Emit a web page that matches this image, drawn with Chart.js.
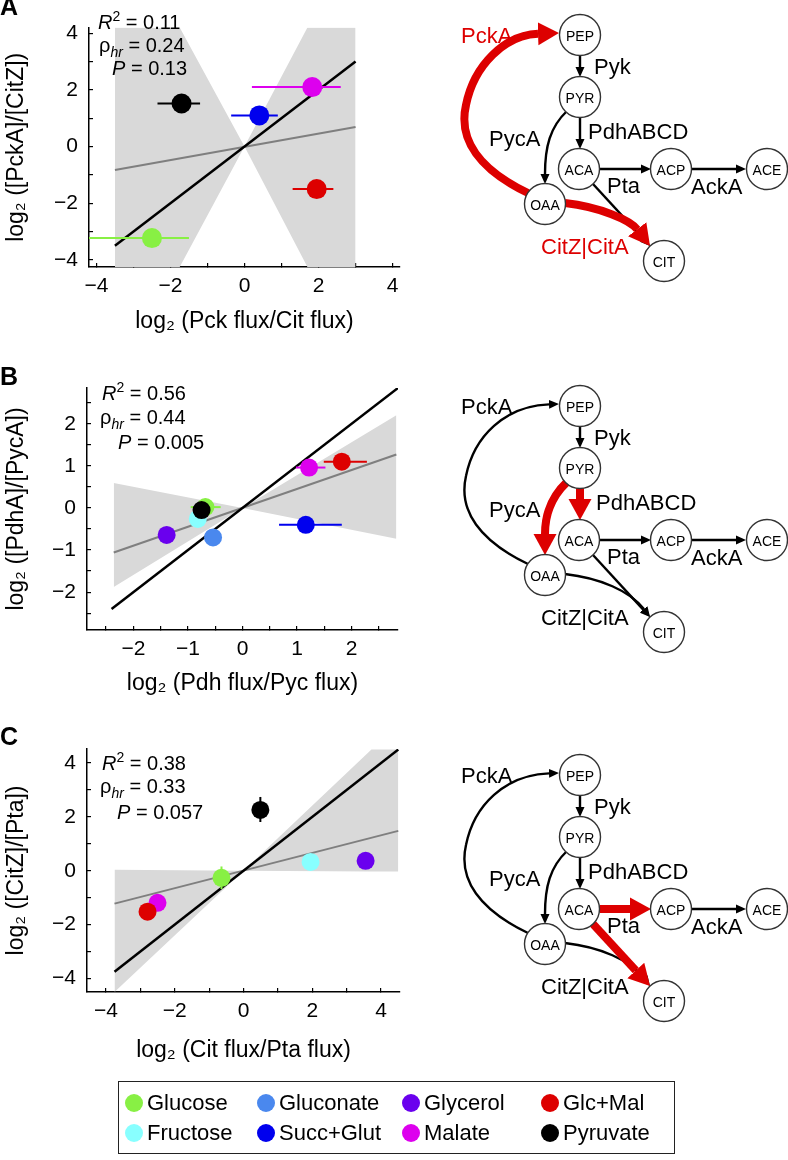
<!DOCTYPE html>
<html>
<head>
<meta charset="utf-8">
<script src="https://cdn.jsdelivr.net/npm/chart.js@4.4.1/dist/chart.umd.min.js"></script>
<style>
  body { margin: 0; background: #fff; font-family: "Liberation Sans", Arial, sans-serif; color: #000; }
  #page { position: relative; width: 788px; height: 1160px; overflow: hidden; }
  canvas.plot { position: absolute; left: 0; }
  .letter { position: absolute; left: 0; font-weight: bold; font-size: 25px; line-height: 25px; }
  .stat { position: absolute; font-size: 20px; line-height: 22px; white-space: nowrap; }
  .stat sup { font-size: 14px; line-height: 0; vertical-align: 8px; }
  .stat sub { font-size: 14px; line-height: 0; vertical-align: -5px; font-style: italic; }
  #legend { position: absolute; left: 118px; top: 1081px; width: 557px; height: 73px; border: 1.5px solid #222; box-sizing: border-box; }
  .lg { position: absolute; font-size: 22px; line-height: 26px; white-space: nowrap; }
  .dot { display: inline-block; width: 18px; height: 18px; border-radius: 50%; vertical-align: -2px; margin-right: 4px; }
  svg { position: absolute; left: 0; top: 0; }
</style>
</head>
<body>
<div id="page">
  <canvas class="plot" id="chartA" width="420" height="342" style="top:0px"></canvas>
  <canvas class="plot" id="chartB" width="420" height="354" style="top:350px"></canvas>
  <canvas class="plot" id="chartC" width="420" height="361" style="top:710px"></canvas>
  <svg id="maps" width="788" height="1160"></svg>
  <div class="letter" style="top:-6px">A</div>
  <div class="letter" style="top:364px">B</div>
  <div class="letter" style="top:724px">C</div>
  <div id="legend"></div>
</div>
<script>
// carbon sources, same order everywhere
const conditions = ['Glucose', 'Fructose', 'Gluconate', 'Succ+Glut', 'Glycerol', 'Malate', 'Glc+Mal', 'Pyruvate'];
const conditionColors = ['#88f044', '#88ffff', '#4a88ee', '#0000ee', '#6a00ee', '#dd00ee', '#dd0000', '#000000'];

// A: log2(Pck flux/Cit flux) vs log2([PckA]/[CitZ])
const pckFlux   = [-2.5, null, null, 0.4, null, 1.83, 1.95, -1.7];
const pckFluxLo = [-4.4, null, null, -0.36, null, 0.2, 1.3, -2.35];
const pckFluxHi = [-1.5, null, null, 0.9, null, 2.6, 2.4, -1.2];
const pckRatio  = [-3.23, null, null, 1.1, null, 2.1, -1.5, 1.52];
const pckBandX  = [-3.5, -1.75, 0, 1.7, 3];
const pckBandHi = [4.2, 4.2, 0, 4.2, 4.2];
const pckBandLo = [-4.25, -4.25, 0, -4.25, -4.25];
const pckFitX = [-3.5, 3], pckFitY = [-0.83, 0.69];
const pckUnityX = [-3.5, 3], pckUnityY = [-3.5, 3];
const pckStats = ['0.11', '0.24', '0.13'];

// B: log2(Pdh flux/Pyc flux) vs log2([PdhA]/[PycA])
const pdhFlux    = [-0.68, -0.82, -0.54, 1.16, -1.39, 1.22, 1.82, -0.75];
const pdhFluxLo  = [-0.95, null, null, 0.67, null, 0.98, 1.49, null];
const pdhFluxHi  = [-0.4, null, null, 1.82, null, 1.52, 2.28, null];
const pdhRatio   = [0.02, -0.26, -0.7, -0.4, -0.64, 0.96, 1.1, -0.05];
const pdhRatioLo = [-0.18, null, null, null, null, null, null, null];
const pdhRatioHi = [0.22, null, null, null, null, null, null, null];
const pdhBandX  = [-2.36, 0, 2.82];
const pdhBandHi = [0.59, 0, 2.2];
const pdhBandLo = [-1.88, 0, -0.73];
const pdhFitX = [-2.36, 2.82], pdhFitY = [-1.06, 1.27];
const pdhUnityX = [-2.4, 2.85], pdhUnityY = [-2.4, 2.85];
const pdhStats = ['0.56', '0.44', '0.005'];

// C: log2(Cit flux/Pta flux) vs log2([CitZ]/[Pta])
const citFlux    = [-0.64, 1.95, null, null, 3.55, -2.5, -2.79, 0.49];
const citRatio   = [-0.26, 0.33, null, null, 0.37, -1.19, -1.52, 2.26];
const citRatioLo = [-0.68, null, null, null, null, null, null, 1.81];
const citRatioHi = [0.16, null, null, null, null, null, null, 2.74];
const citBandX  = [-3.75, 0, 3.72, 4.5];
const citBandHi = [0.04, 0, 4.5, 4.5];
const citBandLo = [-4.5, 0, -0.03, -0.03];
const citFitX = [-3.75, 4.5], citFitY = [-1.22, 1.48];
const citUnityX = [-3.75, 4.5], citUnityY = [-3.75, 4.5];
const citStats = ['0.38', '0.33', '0.057'];

Chart.defaults.font.family = '"Liberation Sans", Arial, sans-serif';
Chart.defaults.color = '#000';

function fmt(v) {
  return v < 0 ? '\u2212' + Math.abs(v) : String(v);
}

function pts(xs, ys) {
  return xs.map((x, i) => ({ x: x, y: ys[i] }));
}

function makePanel(id, p) {
  const datasets = [];
  datasets.push({ type: 'line', data: pts(p.bandX, p.bandHi), fill: '+1', backgroundColor: '#d9d9d9',
    borderWidth: 0, pointRadius: 0, order: 20 });
  datasets.push({ type: 'line', data: pts(p.bandX, p.bandLo), fill: false, borderWidth: 0, pointRadius: 0, order: 21 });
  datasets.push({ type: 'line', data: pts(p.fitX, p.fitY), borderColor: '#7f7f7f', borderWidth: 2, pointRadius: 0, order: 12 });
  datasets.push({ type: 'line', data: pts(p.unityX, p.unityY), borderColor: '#000', borderWidth: 2.5, pointRadius: 0, order: 11 });

  // error bars
  p.x.forEach((x, i) => {
    if (x === null) return;
    if (p.xLo && p.xLo[i] !== null) {
      datasets.push({ type: 'line', data: [{ x: p.xLo[i], y: p.y[i] }, { x: p.xHi[i], y: p.y[i] }],
        borderColor: conditionColors[i], borderWidth: 2, pointRadius: 0, order: 5 });
    }
    if (p.yLo && p.yLo[i] !== null) {
      datasets.push({ type: 'line', data: [{ x: x, y: p.yLo[i] }, { x: x, y: p.yHi[i] }],
        borderColor: conditionColors[i], borderWidth: 2, pointRadius: 0, order: 5 });
    }
  });

  const dots = [], dotColors = [];
  p.x.forEach((x, i) => {
    if (x === null) return;
    dots.push({ x: x, y: p.y[i] });
    dotColors.push(conditionColors[i]);
  });
  datasets.push({ type: 'scatter', data: dots, pointRadius: p.r, pointBackgroundColor: dotColors,
    pointBorderWidth: 0, order: 1 });

  const axis = (min, max, step, every, title, fitSize, horizontal) => ({
    type: 'linear', min: min, max: max,
    afterFit: (s) => { if (horizontal) s.height = fitSize; else s.width = fitSize; },
    border: { color: '#000', width: 1.5 },
    grid: { drawOnChartArea: false, color: '#000', lineWidth: 1.2, tickLength: -4 },
    ticks: {
      stepSize: step, autoSkip: false, maxRotation: 0, includeBounds: false,
      padding: horizontal ? 11 : 15, color: '#000', font: { size: 21 },
      callback: (v) => (Math.abs(v / every - Math.round(v / every)) < 1e-6 ? fmt(v) : '')
    },
    title: { display: true, text: title, color: '#000', font: { size: 23 },
      padding: horizontal ? { top: 0, bottom: 7 } : { top: 3, bottom: 0 } }
  });

  return new Chart(document.getElementById(id), {
    type: 'scatter',
    data: { datasets: datasets },
    options: {
      responsive: false,
      animation: false,
      events: [],
      layout: { padding: { top: p.padTop, right: p.padRight, left: 0, bottom: 0 } },
      plugins: { legend: { display: false }, tooltip: { enabled: false } },
      scales: {
        x: axis(p.xRange[0], p.xRange[1], p.step, p.every, p.xTitle, p.xAxisH, true),
        y: axis(p.yRange[0], p.yRange[1], p.step, p.every, p.yTitle, p.yAxisW, false)
      }
    }
  });
}

makePanel('chartA', {
  x: pckFlux, y: pckRatio, xLo: pckFluxLo, xHi: pckFluxHi,
  bandX: pckBandX, bandHi: pckBandHi, bandLo: pckBandLo,
  fitX: pckFitX, fitY: pckFitY, unityX: pckUnityX, unityY: pckUnityY,
  xRange: [-4.2, 4.2], yRange: [-4.25, 4.2], step: 1, every: 2, r: 10,
  xTitle: 'log\u2082 (Pck flux/Cit flux)', yTitle: 'log\u2082 ([PckA]/[CitZ])',
  padTop: 22, padRight: 20, xAxisH: 75, yAxisW: 89
});

makePanel('chartB', {
  x: pdhFlux, y: pdhRatio, xLo: pdhFluxLo, xHi: pdhFluxHi, yLo: pdhRatioLo, yHi: pdhRatioHi,
  bandX: pdhBandX, bandHi: pdhBandHi, bandLo: pdhBandLo,
  fitX: pdhFitX, fitY: pdhFitY, unityX: pdhUnityX, unityY: pdhUnityY,
  xRange: [-2.85, 2.85], yRange: [-2.9, 2.85], step: 0.5, every: 1, r: 9,
  xTitle: 'log\u2082 (Pdh flux/Pyc flux)', yTitle: 'log\u2082 ([PdhA]/[PycA])',
  padTop: 38, padRight: 22, xAxisH: 74, yAxisW: 87
});

makePanel('chartC', {
  x: citFlux, y: citRatio, yLo: citRatioLo, yHi: citRatioHi,
  bandX: citBandX, bandHi: citBandHi, bandLo: citBandLo,
  fitX: citFitX, fitY: citFitY, unityX: citUnityX, unityY: citUnityY,
  xRange: [-4.55, 4.55], yRange: [-4.5, 4.52], step: 1, every: 2, r: 9,
  xTitle: 'log\u2082 (Cit flux/Pta flux)', yTitle: 'log\u2082 ([CitZ]/[Pta])',
  padTop: 39, padRight: 20, xAxisH: 79, yAxisW: 87
});

// statistics text next to each plot
const page = document.getElementById('page');
function addStats(values, rows) {
  const labels = ['<i>R</i><sup>2</sup> = ', '\u03c1<sub>hr</sub> = ', '<i>P</i> = '];
  rows.forEach((r, i) => {
    const d = document.createElement('div');
    d.className = 'stat';
    d.style.left = r[0] + 'px';
    d.style.top = (r[1] - 11) + 'px';
    d.innerHTML = labels[i] + values[i];
    page.appendChild(d);
  });
}
addStats(pckStats, [[98, 22], [99, 45], [112, 68]]);
addStats(pdhStats, [[102, 393], [100, 417], [118, 442]]);
addStats(citStats, [[102, 763], [100, 786], [117, 812]]);

// legend
const legend = document.getElementById('legend');
const colLeft = [6, 138, 283, 422];
const rowTop = [8, 38];
conditions.forEach((name, i) => {
  const d = document.createElement('div');
  d.className = 'lg';
  d.style.left = colLeft[Math.floor(i / 2)] + 'px';
  d.style.top = rowTop[i % 2] + 'px';
  d.innerHTML = '<span class="dot" style="background:' + conditionColors[i] + '"></span>' + name;
  legend.appendChild(d);
});

// pathway maps
const RED = '#dd0000';
const nodeAt = { PEP: [580, 0], PYR: [580, 62], ACA: [579, 134], ACP: [671, 134], ACE: [767, 134], OAA: [545, 169], CIT: [664, 226] };
const edges = {
  pyk:    [[580, 20], [580, 42]],
  pdh:    [[580, 82], [580, 114]],
  pyc:    [[567, 76], [550, 92], [545, 112], [545, 149]],
  pta:    [[600, 134], [651, 134]],
  ack:    [[692, 134], [746, 134]],
  pck:    [[528, 158], [480, 135], [458, 105], [466, 70], [474, 30], [505, 0], [559, -2]],
  citOaa: [[565, 168], [600, 172], [630, 185], [650, 211]],
  citAca: [[593, 149], [650, 211]]
};
const enzymeLabels = [['PckA', 461, 0], ['Pyk', 594, 31], ['PdhABCD', 588, 96], ['PycA', 489, 103],
  ['Pta', 607, 150], ['AckA', 691, 151], ['CitZ|CitA', 541, 211]];
const mapPanels = [
  { y0: 35, red: ['pck', 'citOaa'], redLabels: ['PckA', 'CitZ|CitA'] },
  { y0: 406, red: ['pyc', 'pdh'], redLabels: [], shift: { PdhABCD: 8 } },
  { y0: 775, red: ['pta', 'citAca'], redLabels: [] }
];

const svg = document.getElementById('maps');
const NS = 'http://www.w3.org/2000/svg';
function el(tag, attrs, parent) {
  const e = document.createElementNS(NS, tag);
  for (const k in attrs) e.setAttribute(k, attrs[k]);
  (parent || svg).appendChild(e);
  return e;
}
const defs = el('defs', {});
const mk = el('marker', { id: 'headK', markerUnits: 'userSpaceOnUse', markerWidth: 12, markerHeight: 12,
  viewBox: '0 -6 12 12', refX: 0, refY: 0, orient: 'auto' }, defs);
el('path', { d: 'M0,-4.5 L10,0 L0,4.5 z', fill: '#000' }, mk);
const mr = el('marker', { id: 'headR', markerUnits: 'userSpaceOnUse', markerWidth: 24, markerHeight: 26,
  viewBox: '0 -13 24 26', refX: 0, refY: 0, orient: 'auto' }, defs);
el('path', { d: 'M0,-11.5 L21,0 L0,11.5 z', fill: RED }, mr);

function edgePath(p, headLen, dy) {
  const q = p.map(a => [a[0], a[1] + dy]);
  const n = q.length;
  const tip = q[n - 1], prev = q[n - 2];
  const dx = tip[0] - prev[0], dyy = tip[1] - prev[1];
  const len = Math.hypot(dx, dyy);
  q[n - 1] = [tip[0] - headLen * dx / len, tip[1] - headLen * dyy / len];
  let d = 'M' + q[0][0] + ',' + q[0][1];
  if (n === 2) d += ' L' + q[1][0] + ',' + q[1][1];
  for (let i = 1; i + 2 < n; i += 3) {
    d += ' C' + q[i][0] + ',' + q[i][1] + ' ' + q[i + 1][0] + ',' + q[i + 1][1] + ' ' + q[i + 2][0] + ',' + q[i + 2][1];
  }
  return d;
}

mapPanels.forEach(mp => {
  const g = el('g', {});
  Object.keys(edges).forEach(k => {
    if (mp.red.indexOf(k) >= 0) return;
    el('path', { d: edgePath(edges[k], 10, mp.y0), stroke: '#000', 'stroke-width': 2.4, fill: 'none', 'marker-end': 'url(#headK)' }, g);
  });
  mp.red.forEach(k => {
    el('path', { d: edgePath(edges[k], 21, mp.y0), stroke: RED, 'stroke-width': 8, fill: 'none', 'marker-end': 'url(#headR)' }, g);
  });
  Object.keys(nodeAt).forEach(name => {
    const c = nodeAt[name];
    el('circle', { cx: c[0], cy: c[1] + mp.y0, r: 20.5, fill: '#fff', stroke: '#333', 'stroke-width': 1.4 }, g);
    const t = el('text', { x: c[0], y: c[1] + mp.y0 + 1, 'text-anchor': 'middle', 'dominant-baseline': 'central',
      'font-size': 14, 'font-family': 'Liberation Sans, Arial, sans-serif' }, g);
    t.textContent = name;
  });
  enzymeLabels.forEach(l => {
    const dx = (mp.shift && mp.shift[l[0]]) || 0;
    const t = el('text', { x: l[1] + dx, y: l[2] + mp.y0, 'dominant-baseline': 'central', 'font-size': 22,
      'font-family': 'Liberation Sans, Arial, sans-serif', fill: mp.redLabels.indexOf(l[0]) >= 0 ? RED : '#000' }, g);
    t.textContent = l[0];
  });
});
</script>
</body>
</html>
